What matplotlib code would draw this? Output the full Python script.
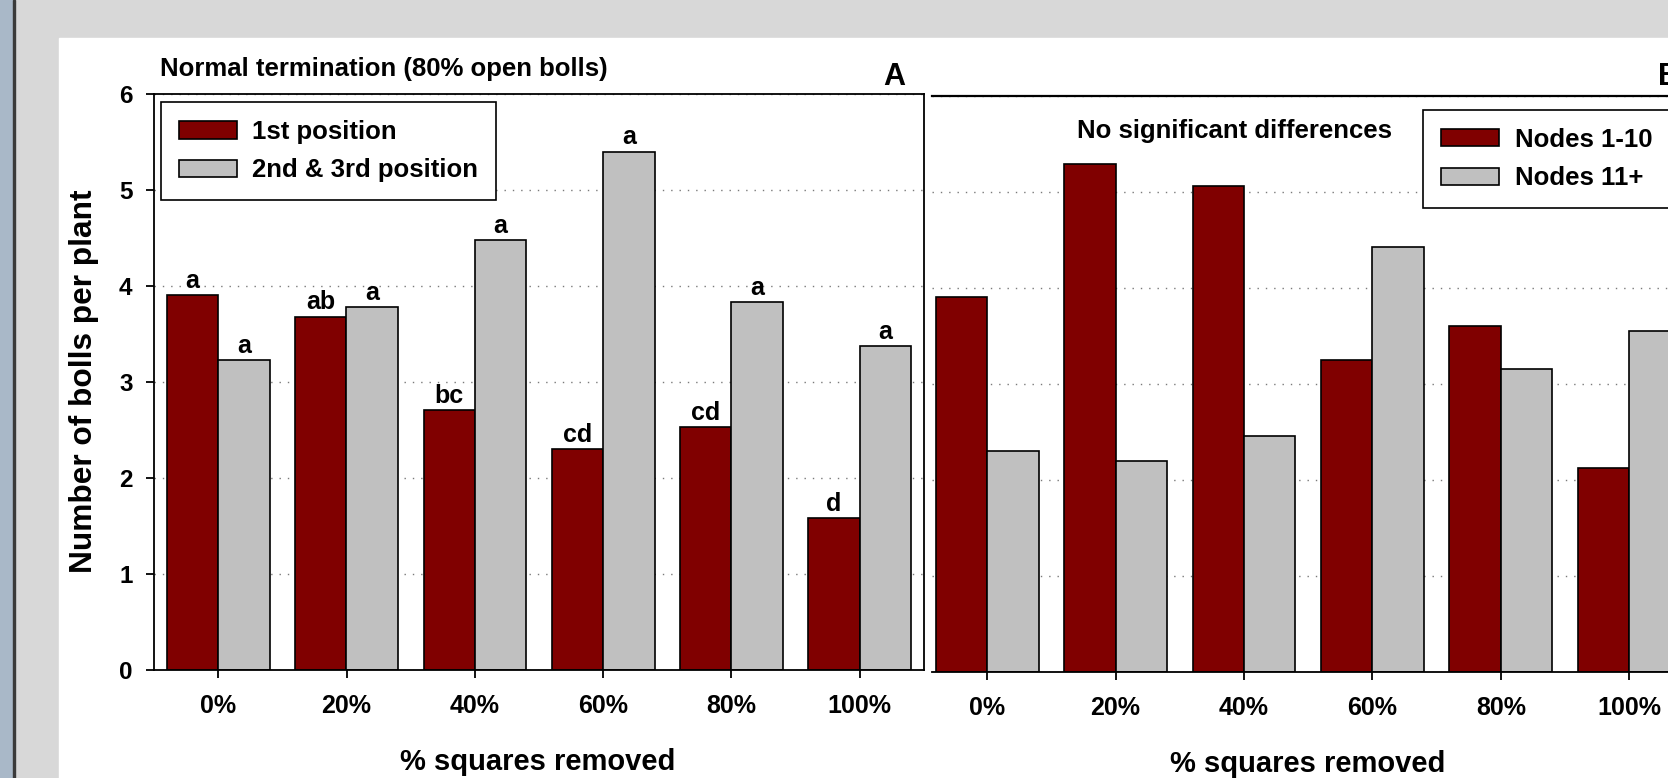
import numpy as np
import matplotlib.pyplot as plt
from matplotlib.patches import Rectangle

plt.rcParams['font.family'] = ['Liberation Sans', 'DejaVu Sans']
plt.rcParams['font.weight'] = 'bold'

removed = ['0%', '20%', '40%', '60%', '80%', '100%']

# panel A: bolls by fruiting position
first_pos = [3.90, 3.68, 2.71, 2.30, 2.53, 1.58]
later_pos = [3.23, 3.78, 4.48, 5.40, 3.83, 3.37]
first_letters = ['a', 'ab', 'bc', 'cd', 'cd', 'd']
later_letters = ['a', 'a', 'a', 'a', 'a', 'a']

# panel B: bolls by node range
nodes_low = [3.91, 5.29, 5.06, 3.25, 3.60, 2.12]
nodes_high = [2.30, 2.20, 2.46, 4.43, 3.16, 3.55]

W, H = 1668, 778
RED = '#800000'
GREY = '#c0c0c0'


def px(x0, y0, x1, y1):
    """pixel box (origin top left) -> figure fraction rect"""
    return [x0 / W, 1 - y1 / H, (x1 - x0) / W, (y1 - y0) / H]


fig = plt.figure(figsize=(W / 100, H / 100), dpi=100, facecolor='#d8d8d8')

# slide frame: blue strip, dark rule, white panel
fig.add_artist(Rectangle((0, 0), 13 / W, 1, transform=fig.transFigure,
                         color='#a9b8c8', zorder=-10))
fig.add_artist(Rectangle((13 / W, 0), 2 / W, 1, transform=fig.transFigure,
                         color='#3a3a3a', zorder=-10))
fig.add_artist(Rectangle((59 / W, 0), 1, 1 - 38 / H, transform=fig.transFigure,
                         color='white', zorder=-10))

ax1 = fig.add_axes(px(154, 94, 924, 669.6))
ax2 = fig.add_axes(px(932, 96, 932 + 5.93 * 128.4, 672))

x = np.arange(len(removed))
for ax, a, b in ((ax1, first_pos, later_pos), (ax2, nodes_low, nodes_high)):
    ax.bar(x - 0.2, a, 0.4, color=RED, edgecolor='black', linewidth=1.2)
    ax.bar(x + 0.2, b, 0.4, color=GREY, edgecolor='black', linewidth=1.2)
    ax.set_ylim(0, 6)
    ax.set_yticks(range(7))
    ax.yaxis.grid(True, color='#7a7a7a', linestyle=(0, (1, 5)), linewidth=1.0)
    ax.set_axisbelow(True)
    ax.set_xticks(x)
    ax.set_xticklabels(removed, fontsize=18)
    ax.tick_params(axis='x', length=5.5, width=1.3, pad=12)
    for s in ax.spines.values():
        s.set_linewidth(1.3)

ax1.set_xlim(-0.5, 5.5)
ax1.set_yticklabels([str(v) for v in range(7)], fontsize=17.5)
ax1.tick_params(axis='y', length=5.5, width=1.3, pad=10)

ax2.set_xlim(-0.43, 5.5)
ax2.spines['left'].set_visible(False)
ax2.spines['right'].set_visible(False)
ax2.spines['top'].set_linewidth(1.6)
ax2.tick_params(axis='y', left=False, labelleft=False)

# significance letters above the panel A bars
for i in x:
    ax1.annotate(first_letters[i], (i - 0.2, first_pos[i]), xytext=(0, 1.5),
                 textcoords='offset points', ha='center', va='bottom', fontsize=18)
    ax1.annotate(later_letters[i], (i + 0.2, later_pos[i]), xytext=(0, 1.5),
                 textcoords='offset points', ha='center', va='bottom', fontsize=18)

leg_kw = dict(loc='upper left', fontsize=18.5, frameon=True, fancybox=False,
              edgecolor='black', framealpha=1, handlelength=2.26, handleheight=0.66,
              handletextpad=0.6, borderpad=0.7, labelspacing=0.56, borderaxespad=0)
l1 = ax1.legend(['1st position', '2nd & 3rd position'],
                bbox_to_anchor=(0.009, 0.986), **leg_kw)
l2 = ax2.legend(['Nodes 1-10', 'Nodes 11+'],
                bbox_to_anchor=(0.645, 0.976), **leg_kw)
for lg in (l1, l2):
    lg.get_frame().set_linewidth(1.2)

fig.text(160 / W, 1 - 76 / H, 'Normal termination (80% open bolls)',
         fontsize=18.5, va='baseline')
fig.text(894 / W, 1 - 85 / H, 'A', fontsize=22, ha='center', va='baseline')
fig.text(1658 / W, 1 - 85 / H, 'B', fontsize=22, ha='left', va='baseline')
fig.text(1077 / W, 1 - 138 / H, 'No significant differences',
         fontsize=18.5, va='baseline')
fig.text(84 / W, 1 - 381 / H, 'Number of bolls per plant', fontsize=22.8,
         rotation=90, ha='center', va='center')
fig.text(538 / W, 1 - 762 / H, '% squares removed', fontsize=21,
         ha='center', va='center')
fig.text(1308 / W, 1 - 764 / H, '% squares removed', fontsize=21,
         ha='center', va='center')

fig.savefig('out.png', dpi=100, facecolor=fig.get_facecolor())
